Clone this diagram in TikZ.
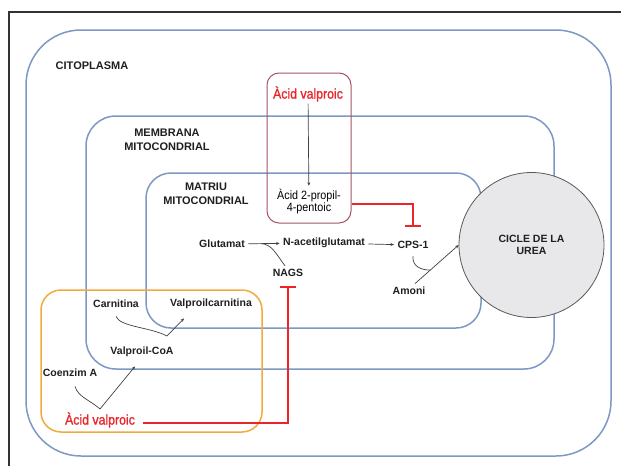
\documentclass[tikz,border=0pt]{standalone}
\usepackage{fontspec}
\setmainfont{Liberation Sans}
\newfontfamily\narrowfont[FakeStretch=0.9]{Liberation Sans}
\newfontfamily\narrowred[FakeStretch=0.88,FakeBold=1.2]{Liberation Sans}
\usetikzlibrary{arrows.meta}
\definecolor{cellblue}{RGB}{125,152,195}
\definecolor{vpaorange}{RGB}{242,170,62}
\definecolor{vparose}{RGB}{165,85,100}
\definecolor{vpared}{RGB}{234,38,44}
\definecolor{ureagray}{RGB}{232,232,234}

\begin{document}
\begin{tikzpicture}[x=1pt,y=-1pt,>={Stealth[length=3.5pt,width=3pt]},
    lbl/.style={font=\bfseries\fontsize{10.5}{12}\selectfont,text=black!88,align=center},
    region/.style={font=\bfseries\fontsize{11}{14}\selectfont,text=black!88,align=center},
    redlbl/.style={font=\narrowred\fontsize{14}{16}\selectfont,text=vpared,fill=white,inner sep=2pt},
    compart/.style={draw=cellblue,line width=1.5pt,rectangle,inner sep=0pt},
    conn/.style={draw=black!75,line width=0.7pt},
    inhib/.style={draw=vpared,line width=2.2pt,-{Bar[width=16pt,line width=2.2pt]}}]
  \useasboundingbox (0,0) rectangle (621,466);
  \draw[line width=1.5pt,black!80] (9,466) |- (621,12);
  % compartiments
  \node[compart,rounded corners=55,minimum width=585,minimum height=426] (cito) at (318.5,243) {};
  \node[compart,rounded corners=30,minimum width=468,minimum height=253] (memb) at (320,242.5) {};
  \node[compart,rounded corners=25,minimum width=335,minimum height=155] (matr) at (313.5,250.5) {};
  \node[compart,draw=vpaorange,rounded corners=20,minimum width=221,minimum height=142] (obox) at (151.5,361) {};
  \node[compart,draw=vparose,line width=1pt,rounded corners=12,minimum width=84,minimum height=150] (vbox) at (309,148) {};
  \node[circle,draw=black!65,fill=ureagray,line width=0.8pt,minimum size=145,lbl] (urea) at (531.5,245) {CICLE DE LA\\UREA};
  \node[region] at (92,66) {CITOPLASMA};
  \node[region] at (167,140) {MEMBRANA\\MITOCONDRIAL};
  \node[region] at (206,194) {MATRIU\\MITOCONDRIAL};
  % metabolits
  \node[redlbl] (avp1) at (308,94) {Àcid valproic};
  \node[align=center,font=\narrowfont\fontsize{12}{11.5}\selectfont] (prop) at (309,201.5) {Àcid 2-propil-\\4-pentoic};
  \node[lbl] (glu) at (222,244) {Glutamat};
  \node[lbl] (nacg) at (324,243) {N-acetilglutamat};
  \node[lbl] (cps) at (413,245) {CPS-1};
  \node[lbl] (nags) at (288,273) {NAGS};
  \node[lbl] (amoni) at (409,291) {Amoni};
  \node[lbl] (carn) at (116,304) {Carnitina};
  \node[lbl] (vcarn) at (211,304) {Valproilcarnitina};
  \node[lbl] (vcoa) at (142,352) {Valproil-CoA};
  \node[lbl] (coenz) at (70,373) {Coenzim A};
  \node[redlbl] (avp2) at (100,420) {Àcid valproic};
  \coordinate (v1) at (167,336);
  \coordinate (v2) at (100,409);
  % reaccions
  \draw[conn,->] (avp1) -- (prop);
  \draw[conn,->] (glu) -- coordinate[pos=0.4] (g1) (nacg);
  \draw[conn] (g1) .. controls (272,244) and (276,254) .. ([xshift=-3pt]nags.north);
  \draw[conn,->] (nacg) -- (cps);
  \draw[conn,->] ([xshift=6pt]amoni.north) -- coordinate[pos=0.35] (a1) (urea.west);
  \draw[conn] ([yshift=-4pt]cps.south) .. controls (412,267) and (422,270) .. (a1);
  \draw[conn] ([yshift=-5pt]carn.south) .. controls (120,327) and (150,327) .. (v1);
  \draw[conn,->] (v1) -- ([xshift=-27pt,yshift=-6pt]vcarn.south);
  \draw[conn] ([xshift=5pt,yshift=-6pt]coenz.south) .. controls (78,397) and (90,400) .. (v2);
  \draw[conn,->] (v2) -- ([xshift=-7pt,yshift=-6pt]vcoa.south);
  % inhibicions
  \draw[inhib,shorten >=11pt] ([yshift=-2.5pt]prop.east -| vbox.east) -| (cps.north);
  \draw[inhib,shorten >=6pt] ([xshift=6pt,yshift=-3pt]avp2.east) -| (nags.south);
\end{tikzpicture}
\end{document}
